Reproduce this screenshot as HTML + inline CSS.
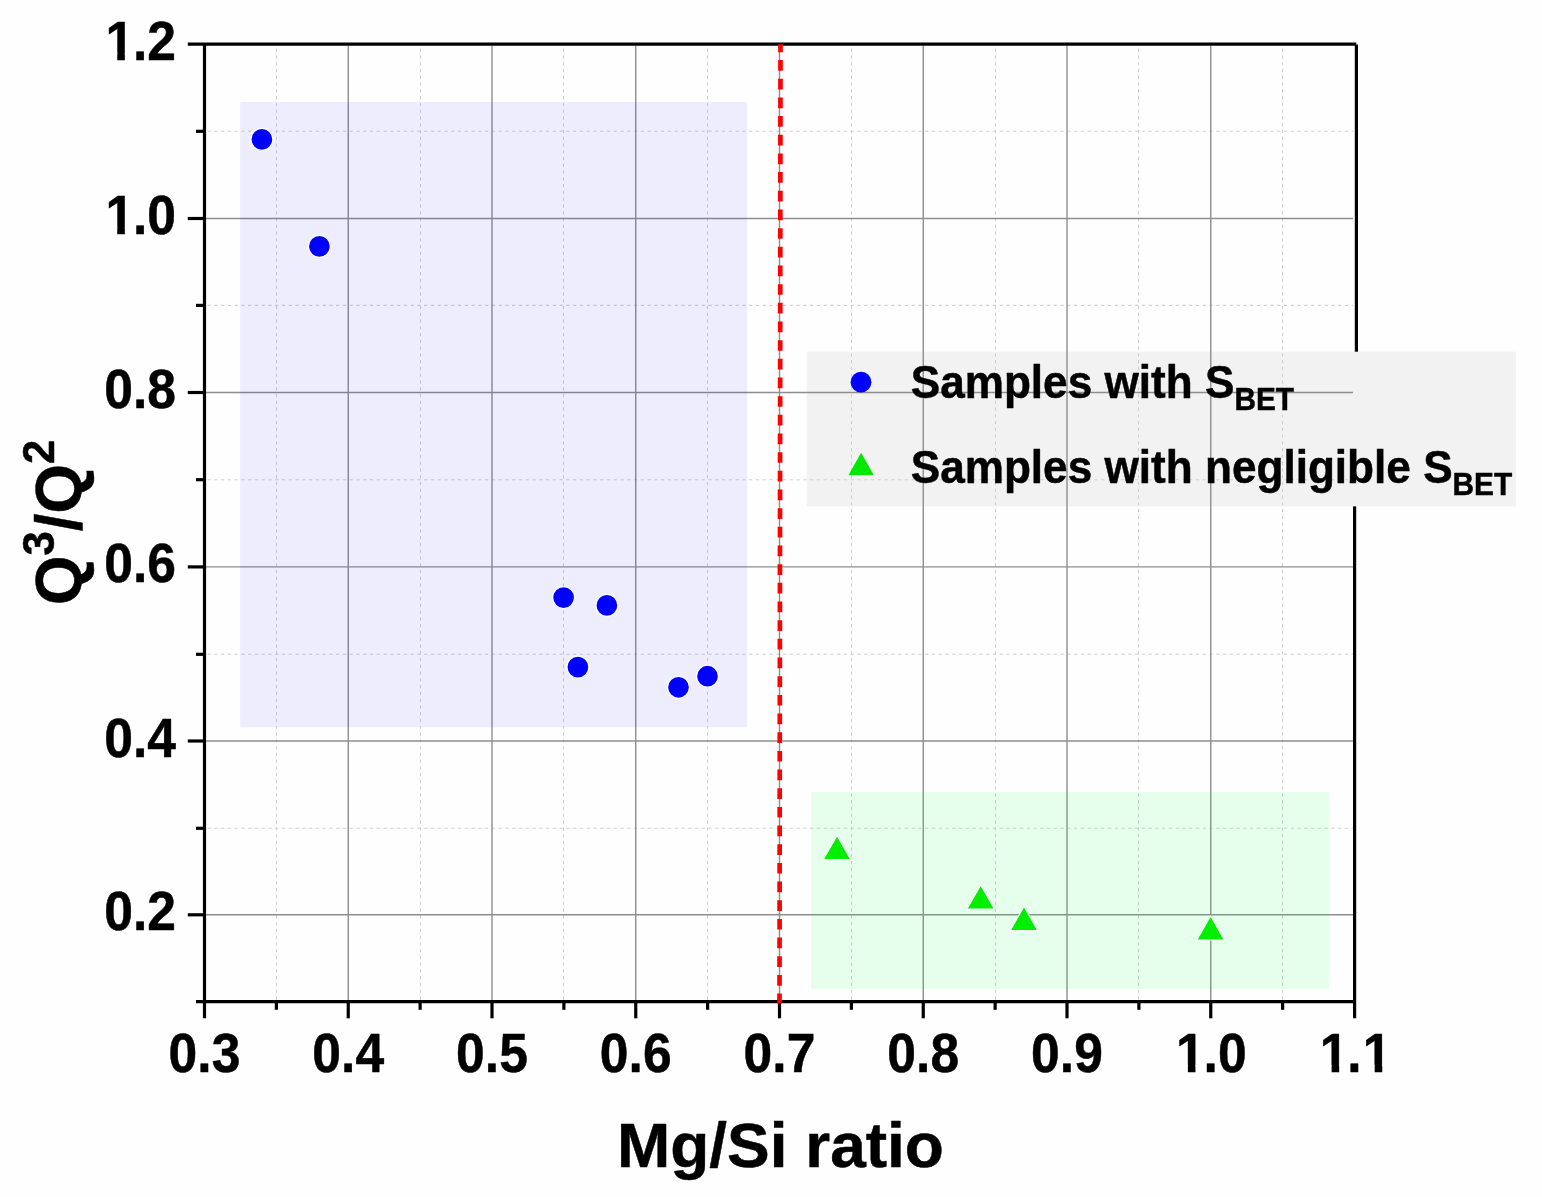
<!DOCTYPE html>
<html lang="en"><head><meta charset="utf-8"><title>Q3/Q2 vs Mg/Si ratio</title>
<style>html,body{margin:0;padding:0;background:#fefefe;}body{width:1542px;height:1197px;overflow:hidden;}svg{display:block;}text{font-family:"Liberation Sans", sans-serif;font-weight:bold;fill:#000;stroke:#000;stroke-width:0.5px;stroke-linejoin:round;}</style></head><body>
<svg width="1542" height="1197" viewBox="0 0 1542 1197">
<rect x="0" y="0" width="1542" height="1197" fill="#fefefe"/>
<g stroke="#000" stroke-width="3.2" fill="none">
<line x1="1356.4" y1="44.4" x2="1356.4" y2="352"/>
<line x1="1354.6" y1="506" x2="1354.6" y2="1018.3"/>
</g>
<rect x="806.8" y="351.7" width="709.3" height="154.7" fill="#f2f2f2"/>
<g stroke="#cdcdcd" stroke-width="1" stroke-dasharray="3.2 3.57" fill="none">
<line x1="276.50" y1="48.70" x2="276.50" y2="1000.20"/>
<line x1="420.50" y1="48.70" x2="420.50" y2="1000.20"/>
<line x1="563.50" y1="48.70" x2="563.50" y2="1000.20"/>
<line x1="707.50" y1="48.70" x2="707.50" y2="1000.20"/>
<line x1="851.50" y1="48.70" x2="851.50" y2="1000.20"/>
<line x1="995.50" y1="48.70" x2="995.50" y2="1000.20"/>
<line x1="1138.50" y1="48.70" x2="1138.50" y2="1000.20"/>
<line x1="1282.50" y1="48.70" x2="1282.50" y2="1000.20"/>
</g>
<g stroke="#d0d0d0" stroke-width="1.1" stroke-dasharray="3.2 3.57" fill="none">
<line x1="207.50" y1="828.30" x2="1353.00" y2="828.30"/>
<line x1="207.50" y1="654.30" x2="1353.00" y2="654.30"/>
<line x1="207.50" y1="479.70" x2="1353.00" y2="479.70"/>
<line x1="207.50" y1="305.40" x2="1353.00" y2="305.40"/>
<line x1="207.50" y1="131.30" x2="1353.00" y2="131.30"/>
</g>
<g stroke="#8e8e8e" stroke-width="1.4" fill="none">
<line x1="348.25" y1="45.70" x2="348.25" y2="1000.20"/>
<line x1="492.00" y1="45.70" x2="492.00" y2="1000.20"/>
<line x1="635.75" y1="45.70" x2="635.75" y2="1000.20"/>
<line x1="779.50" y1="45.70" x2="779.50" y2="1000.20"/>
<line x1="923.25" y1="45.70" x2="923.25" y2="1000.20"/>
<line x1="1067.00" y1="45.70" x2="1067.00" y2="1000.20"/>
<line x1="1210.75" y1="45.70" x2="1210.75" y2="1000.20"/>
<line x1="206.00" y1="914.80" x2="1353.00" y2="914.80"/>
<line x1="206.00" y1="741.00" x2="1353.00" y2="741.00"/>
<line x1="206.00" y1="566.90" x2="1353.00" y2="566.90"/>
<line x1="206.00" y1="392.50" x2="1353.00" y2="392.50"/>
<line x1="206.00" y1="218.50" x2="1353.00" y2="218.50"/>
</g>
<rect x="240.1" y="102" width="507.1" height="625.2" rx="1.5" fill="#0000ff" fill-opacity="0.067"/>
<rect x="811" y="792" width="518" height="197" rx="1.5" fill="#00ff3c" fill-opacity="0.095"/>
<g stroke="#000" stroke-width="3.2" fill="none" stroke-linecap="butt">
<line x1="187.80" y1="44.20" x2="1356.20" y2="44.20"/>
<line x1="196.00" y1="1001.70" x2="1354.60" y2="1001.70"/>
<line x1="204.50" y1="44.20" x2="204.50" y2="1018.30"/>
<line x1="348.25" y1="1001.70" x2="348.25" y2="1018.30"/>
<line x1="492.00" y1="1001.70" x2="492.00" y2="1018.30"/>
<line x1="635.75" y1="1001.70" x2="635.75" y2="1018.30"/>
<line x1="779.50" y1="1001.70" x2="779.50" y2="1018.30"/>
<line x1="923.25" y1="1001.70" x2="923.25" y2="1018.30"/>
<line x1="1067.00" y1="1001.70" x2="1067.00" y2="1018.30"/>
<line x1="1210.75" y1="1001.70" x2="1210.75" y2="1018.30"/>
<line x1="276.38" y1="1001.70" x2="276.38" y2="1009.80"/>
<line x1="420.12" y1="1001.70" x2="420.12" y2="1009.80"/>
<line x1="563.88" y1="1001.70" x2="563.88" y2="1009.80"/>
<line x1="707.62" y1="1001.70" x2="707.62" y2="1009.80"/>
<line x1="851.38" y1="1001.70" x2="851.38" y2="1009.80"/>
<line x1="995.13" y1="1001.70" x2="995.13" y2="1009.80"/>
<line x1="1138.88" y1="1001.70" x2="1138.88" y2="1009.80"/>
<line x1="1282.62" y1="1001.70" x2="1282.62" y2="1009.80"/>
<line x1="187.80" y1="914.80" x2="204.50" y2="914.80"/>
<line x1="187.80" y1="741.00" x2="204.50" y2="741.00"/>
<line x1="187.80" y1="566.90" x2="204.50" y2="566.90"/>
<line x1="187.80" y1="392.50" x2="204.50" y2="392.50"/>
<line x1="187.80" y1="218.50" x2="204.50" y2="218.50"/>
<line x1="196.00" y1="828.30" x2="204.50" y2="828.30"/>
<line x1="196.00" y1="654.30" x2="204.50" y2="654.30"/>
<line x1="196.00" y1="479.70" x2="204.50" y2="479.70"/>
<line x1="196.00" y1="305.40" x2="204.50" y2="305.40"/>
<line x1="196.00" y1="131.30" x2="204.50" y2="131.30"/>
</g>
<line x1="780.5" y1="44.2" x2="779.5" y2="1003.4" stroke="#ff0000" stroke-width="4.7" stroke-dasharray="10.7 7.97" stroke-dashoffset="2.77"/>
<g fill="#0000ff" stroke="#ffffff" stroke-width="1.3">
<circle cx="261.9" cy="139.4" r="11"/>
<circle cx="319.4" cy="246.4" r="11"/>
<circle cx="563.6" cy="597.6" r="11"/>
<circle cx="606.9" cy="605.4" r="11"/>
<circle cx="577.9" cy="667.1" r="11"/>
<circle cx="678.5" cy="687.3" r="11"/>
<circle cx="707.5" cy="676.2" r="11"/>
</g>
<g fill="#00ee00" stroke="#ffffff" stroke-width="2" stroke-linejoin="miter" paint-order="stroke">
<path d="M837.0 836.7 L849.8 859.1 L824.2 859.1 Z"/>
<path d="M980.7 886.2 L993.5 908.6 L967.9 908.6 Z"/>
<path d="M1024.0 907.5 L1036.8 929.9 L1011.2 929.9 Z"/>
<path d="M1210.6 917.0 L1223.4 939.4 L1197.8 939.4 Z"/>
</g>
<text transform="translate(168.62,1071.80) scale(0.9300,1)" font-size="55.50">0.3</text>
<text transform="translate(312.37,1071.80) scale(0.9300,1)" font-size="55.50">0.4</text>
<text transform="translate(456.12,1071.80) scale(0.9300,1)" font-size="55.50">0.5</text>
<text transform="translate(599.87,1071.80) scale(0.9300,1)" font-size="55.50">0.6</text>
<text transform="translate(743.62,1071.80) scale(0.9300,1)" font-size="55.50">0.7</text>
<text transform="translate(887.37,1071.80) scale(0.9300,1)" font-size="55.50">0.8</text>
<text transform="translate(1031.12,1071.80) scale(0.9300,1)" font-size="55.50">0.9</text>
<text transform="translate(1174.87,1071.80) scale(0.9300,1)" font-size="55.50" dx="1.29 -1.29">1.0</text>
<rect x="1178.13" y="1064.94" width="9.75" height="8.86" fill="#fefefe"/>
<rect x="1195.45" y="1064.94" width="9.34" height="8.86" fill="#fefefe"/>
<text transform="translate(1318.62,1071.80) scale(0.9300,1)" font-size="55.50" dx="1.29 -1.29 1.29">1.1</text>
<rect x="1321.88" y="1064.94" width="9.75" height="8.86" fill="#fefefe"/>
<rect x="1339.20" y="1064.94" width="9.34" height="8.86" fill="#fefefe"/>
<rect x="1364.92" y="1064.94" width="9.75" height="8.86" fill="#fefefe"/>
<rect x="1382.25" y="1064.94" width="9.34" height="8.86" fill="#fefefe"/>
<text transform="translate(104.25,930.30) scale(0.9300,1)" font-size="55.50">0.2</text>
<text transform="translate(104.25,756.50) scale(0.9300,1)" font-size="55.50">0.4</text>
<text transform="translate(104.25,582.40) scale(0.9300,1)" font-size="55.50">0.6</text>
<text transform="translate(104.25,408.00) scale(0.9300,1)" font-size="55.50">0.8</text>
<text transform="translate(104.25,234.00) scale(0.9300,1)" font-size="55.50" dx="1.29 -1.29">1.0</text>
<rect x="107.50" y="227.14" width="9.75" height="8.86" fill="#fefefe"/>
<rect x="124.83" y="227.14" width="9.34" height="8.86" fill="#fefefe"/>
<text transform="translate(104.25,59.70) scale(0.9300,1)" font-size="55.50" dx="1.29 -1.29">1.2</text>
<rect x="107.50" y="52.84" width="9.75" height="8.86" fill="#fefefe"/>
<rect x="124.83" y="52.84" width="9.34" height="8.86" fill="#fefefe"/>
<text transform="translate(780.40,1167.00) scale(1.0120,1)" font-size="63.20" text-anchor="middle">Mg/Si ratio</text>
<text transform="translate(81.0,605) rotate(-90) scale(0.970,1)" font-size="65.6">Q<tspan font-size="45" dy="-26.7">3</tspan><tspan dy="26.7">/Q</tspan><tspan font-size="45" dy="-26.7">2</tspan></text>
<circle cx="861" cy="382.2" r="10.4" fill="#0000ff"/>
<path d="M861.1 452.7 L873.7 474.9 L848.5 474.9 Z" fill="#00e800"/>
<text transform="translate(910.70,398.10) scale(0.9680,1)" font-size="45.60" text-anchor="start">Samples with S<tspan font-size="30.8" dy="11.6">BET</tspan></text>
<text transform="translate(910.70,483.00) scale(0.9680,1)" font-size="45.60" text-anchor="start">Samples with negligible S<tspan font-size="30.8" dy="11.6">BET</tspan></text>
</svg></body></html>
